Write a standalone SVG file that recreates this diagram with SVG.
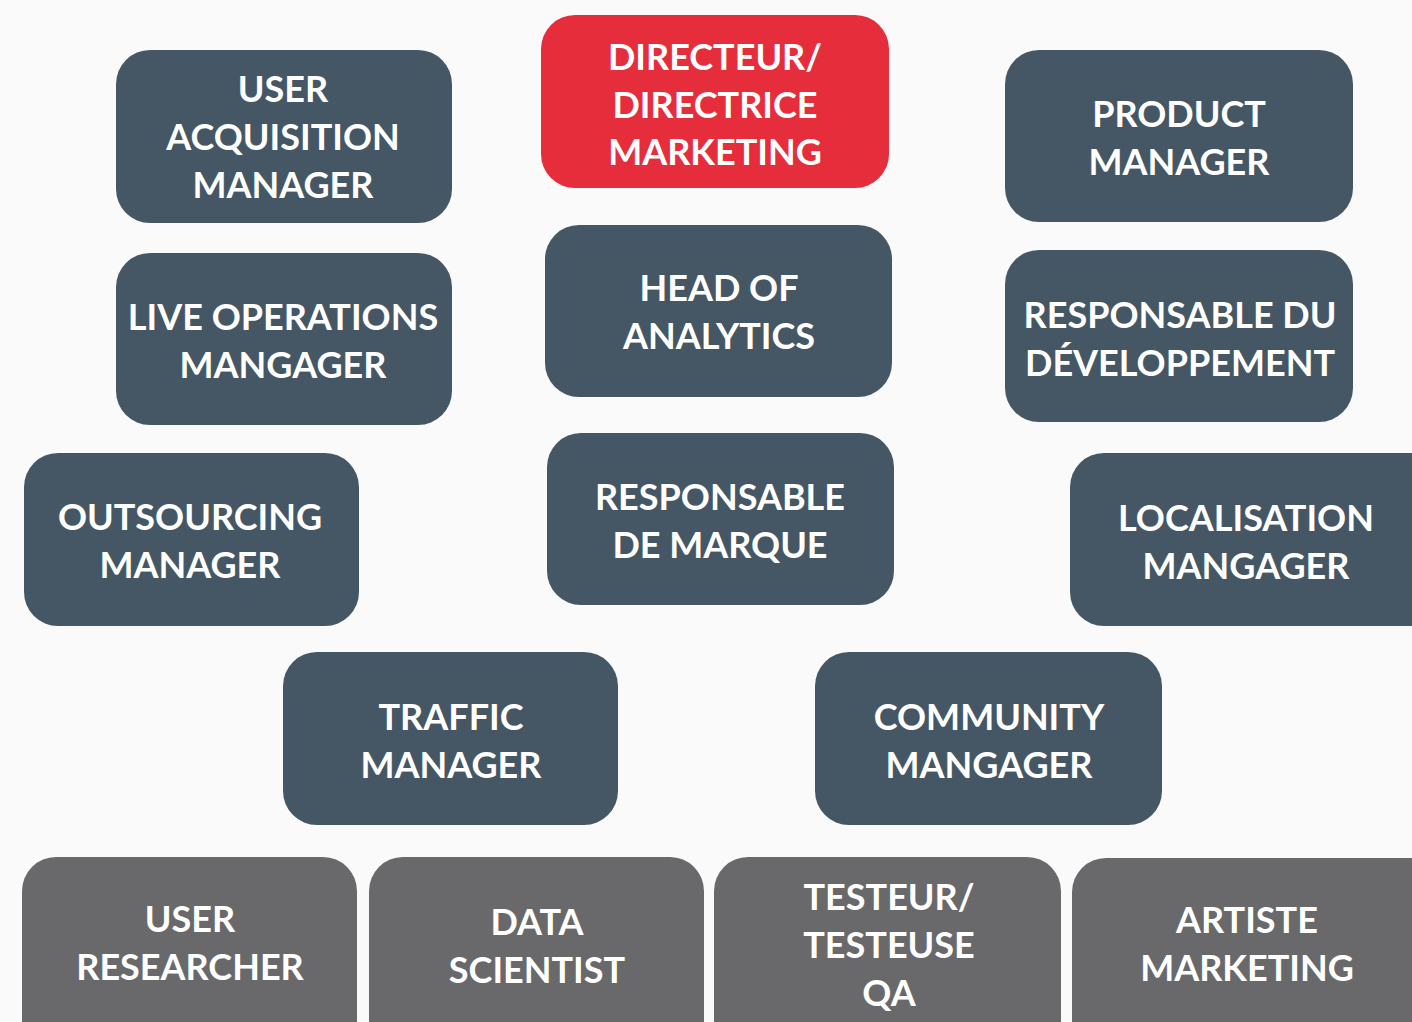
<svg xmlns="http://www.w3.org/2000/svg" width="1412" height="1022" viewBox="0 0 1412 1022">
<style>
.bg{fill:#fafafa}
.n{fill:#455764}
.r{fill:#e52d3c}
.g{fill:#69696b}
text{font-family:Lato,"Open Sans","Liberation Sans",sans-serif;font-weight:700;font-size:36px;fill:#ffffff;text-anchor:middle}
</style>
<rect class="bg" x="0" y="0" width="1412" height="1022"/>
<g id="connectors"/>
<g id="user-acquisition"><rect class="n" x="116" y="50" width="336" height="173" rx="34"/><text x="283" y="102">USER</text><text x="283" y="150">ACQUISITION</text><text x="283" y="198">MANAGER</text></g>
<g id="directeur"><rect class="r" x="541" y="15" width="348" height="173" rx="34"/><text x="715" y="70">DIRECTEUR/</text><text x="715" y="118">DIRECTRICE</text><text x="715" y="165">MARKETING</text></g>
<g id="product-manager"><rect class="n" x="1005" y="50" width="348" height="172" rx="34"/><text x="1179" y="127">PRODUCT</text><text x="1179" y="175">MANAGER</text></g>
<g id="live-operations"><rect class="n" x="116" y="253" width="336" height="172" rx="34"/><text x="283" y="330">LIVE OPERATIONS</text><text x="283" y="378">MANGAGER</text></g>
<g id="head-analytics"><rect class="n" x="545" y="225" width="347" height="172" rx="34"/><text x="719" y="301">HEAD OF</text><text x="719" y="349">ANALYTICS</text></g>
<g id="resp-dev"><rect class="n" x="1005" y="250" width="348" height="172" rx="34"/><text x="1180" y="328">RESPONSABLE DU</text><text x="1180" y="376">DÉVELOPPEMENT</text></g>
<g id="outsourcing"><rect class="n" x="24" y="453" width="335" height="173" rx="34"/><text x="190" y="530">OUTSOURCING</text><text x="190" y="578">MANAGER</text></g>
<g id="resp-marque"><rect class="n" x="547" y="433" width="347" height="172" rx="34"/><text x="720" y="510">RESPONSABLE</text><text x="720" y="558">DE MARQUE</text></g>
<g id="localisation"><rect class="n" x="1070" y="453" width="380" height="173" rx="34"/><text x="1246" y="531">LOCALISATION</text><text x="1246" y="579">MANGAGER</text></g>
<g id="traffic"><rect class="n" x="283" y="652" width="335" height="173" rx="34"/><text x="451" y="730">TRAFFIC</text><text x="451" y="778">MANAGER</text></g>
<g id="community"><rect class="n" x="815" y="652" width="347" height="173" rx="34"/><text x="989" y="730">COMMUNITY</text><text x="989" y="778">MANGAGER</text></g>
<g id="user-researcher"><rect class="g" x="22" y="857" width="335" height="200" rx="34"/><text x="190" y="932">USER</text><text x="190" y="980">RESEARCHER</text></g>
<g id="data-scientist"><rect class="g" x="369" y="857" width="335" height="200" rx="34"/><text x="537" y="935">DATA</text><text x="537" y="983">SCIENTIST</text></g>
<g id="testeur"><rect class="g" x="714" y="857" width="347" height="200" rx="34"/><text x="889" y="910">TESTEUR/</text><text x="889" y="958">TESTEUSE</text><text x="889" y="1006">QA</text></g>
<g id="artiste"><rect class="g" x="1072" y="858" width="380" height="200" rx="34"/><text x="1247" y="933">ARTISTE</text><text x="1247" y="981">MARKETING</text></g>
</svg>
